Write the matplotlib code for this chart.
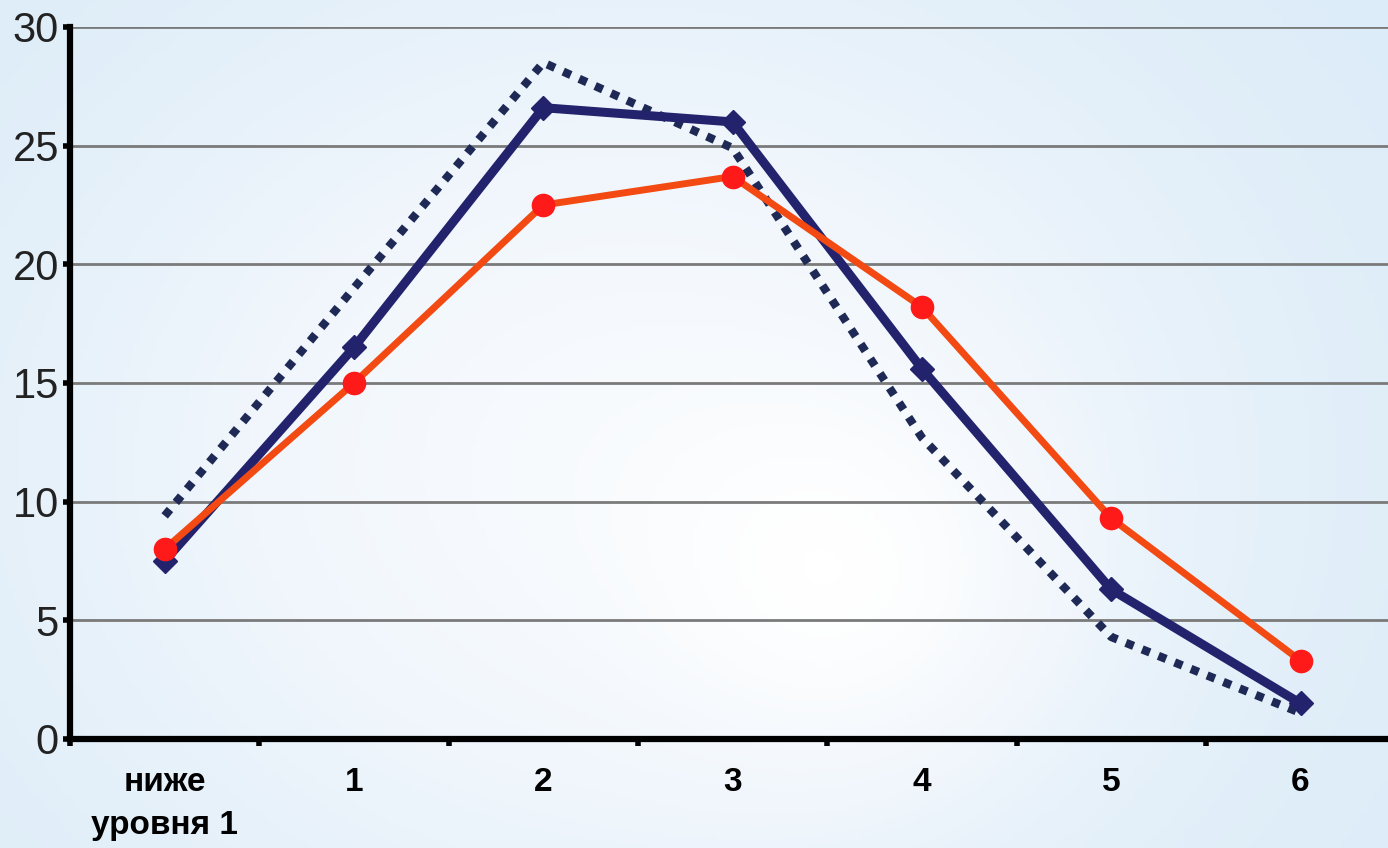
import numpy as np
import matplotlib
matplotlib.use("Agg")
import matplotlib.pyplot as plt
from matplotlib.colors import LinearSegmentedColormap

plt.rcParams['font.family'] = ['Liberation Sans Narrow', 'Liberation Sans', 'DejaVu Sans']

categories = ['ниже\nуровня 1', '1', '2', '3', '4', '5', '6']
dotted_vals = [9.4, 19.0, 28.5, 24.9, 12.7, 4.3, 1.1]
navy_vals = [7.5, 16.5, 26.6, 26.0, 15.6, 6.3, 1.5]
orange_vals = [8.0, 15.0, 22.5, 23.7, 18.2, 9.3, 3.3]

fig = plt.figure(figsize=(13.88, 8.48), dpi=100)

# pale bluish backdrop
bg = fig.add_axes([0, 0, 1, 1], zorder=-10)
yy, xx = np.mgrid[0:1:200j, 0:1:300j]
field = 0.55 * np.exp(-((xx - 0.45) ** 2 / 0.22 + (yy - 0.45) ** 2 / 0.4)) \
    + 0.25 * np.exp(-((xx - 0.62) ** 2 / 0.02 + (yy - 0.3) ** 2 / 0.05))
cmap = LinearSegmentedColormap.from_list('bg', ['#dcecf8', '#f0f6fc', '#ffffff'])
bg.imshow(field, cmap=cmap, aspect='auto', extent=[0, 1, 0, 1], origin='lower')
bg.axis('off')

ax = fig.add_axes([70 / 1388, (848 - 739) / 848, 1318 / 1388, 712 / 848])
ax.patch.set_alpha(0)
x = np.arange(len(categories))

ax.plot(x, dotted_vals, color='#1e2a55', lw=6, linestyle=(0, (1, 1.1)),
        dash_capstyle='butt', zorder=3)
ax.plot(x, navy_vals, color='#23226c', lw=6.5, marker='D', markersize=12,
        zorder=4)
ax.plot(x, orange_vals, color='#f24a12', lw=5, marker='o', markersize=16,
        markerfacecolor='#ff1a1a', markeredgecolor='#ff1a1a', zorder=5)

ax.set_ylim(0, 30)
ax.set_xlim(-0.5, 6.462)
ax.set_yticks(range(0, 31, 5))
ax.yaxis.grid(True, color='#7a7a7a', lw=2)
ax.set_axisbelow(True)

ax.set_xticks(x)
ax.set_xticklabels(categories, fontsize=24, fontweight='bold', linespacing=1.5)
ax.set_xticks(np.arange(-0.5, 6.0, 1), minor=True)
ax.tick_params(axis='x', which='major', length=0, pad=20)
ax.tick_params(axis='x', which='minor', length=5, width=4, direction='out')
ax.tick_params(axis='y', length=5, width=4, direction='out', labelsize=30,
               labelcolor='#222222', pad=3)

for side in ['top', 'right']:
    ax.spines[side].set_visible(False)
for side in ['left', 'bottom']:
    ax.spines[side].set_linewidth(4.5)
    ax.spines[side].set_color('black')

fig.savefig('out.png', dpi=100)
